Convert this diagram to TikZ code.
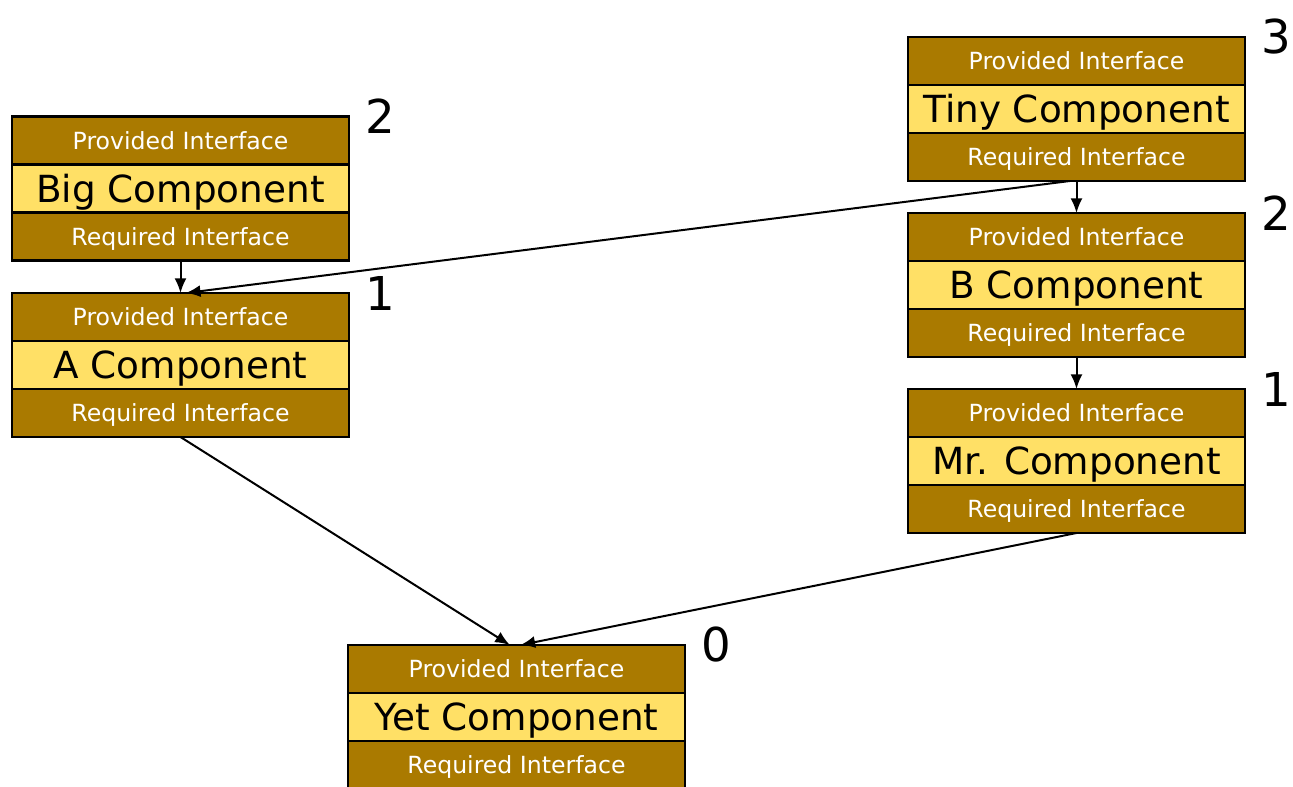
\documentclass[tikz,border=0pt]{standalone}
\usepackage{fontspec}
\setmainfont{DejaVu Sans}
\usetikzlibrary{positioning,arrows.meta}
\definecolor{gold}{RGB}{170,122,0}
\definecolor{lemon}{RGB}{255,224,102}

\begin{document}
\begin{tikzpicture}[x=0.75pt, y=-0.75pt, node distance=0pt,
  iface/.style = {draw, line width=2pt, fill=gold, text=white, minimum width=252.75pt, minimum height=36pt,
    outer sep=0pt, inner sep=0pt, text height=12.8pt, text depth=0pt, font=\fontsize{17.7}{21}\selectfont},
  comp/.style = {iface, fill=lemon, text=black, text height=20.4pt, font=\fontsize{28}{31}\selectfont},
  num/.style = {anchor=west, xshift=9pt, font=\fontsize{35}{38}\selectfont},
  link/.style = {-{Latex[length=11pt,width=9pt]}, line width=1.5pt}]
\useasboundingbox (0,0) rectangle (1293,786);

% left column
\node[iface] (big1) at (180.5,140.5) {Provided Interface};
\node[comp, below=of big1] (big2) {Big Component};
\node[iface, below=of big2] (big3) {Required Interface};
\node[num] at (big1.north east) {2};

\node[iface] (a1) at (180.5,317) {Provided Interface};
\node[comp, below=of a1] (a2) {A Component};
\node[iface, below=of a2] (a3) {Required Interface};
\node[num] at (a1.north east) {1};

% right column
\node[iface] (tiny1) at (1076.5,61) {Provided Interface};
\node[comp, below=of tiny1] (tiny2) {Tiny Component};
\node[iface, below=of tiny2] (tiny3) {Required Interface};
\node[num] at (tiny1.north east) {3};

\node[iface] (b1) at (1076.5,237) {Provided Interface};
\node[comp, below=of b1] (b2) {B Component};
\node[iface, below=of b2] (b3) {Required Interface};
\node[num] at (b1.north east) {2};

\node[iface] (mr1) at (1076.5,413) {Provided Interface};
\node[comp, below=of mr1] (mr2) {Mr. Component};
\node[iface, below=of mr2] (mr3) {Required Interface};
\node[num] at (mr1.north east) {1};

% bottom
\node[iface] (yet1) at (516.5,669) {Provided Interface};
\node[comp, below=of yet1] (yet2) {Yet Component};
\node[iface, below=of yet2] (yet3) {Required Interface};
\node[num] at (yet1.north east) {0};

\draw[link] (big3.south) -- (a1.north);
\draw[link] ([xshift=-5pt]tiny3.south) -- ([xshift=4pt]a1.north);
\draw[link] (tiny3.south) -- (b1.north);
\draw[link] (b3.south) -- (mr1.north);
\draw[link] (a3.south) -- ([xshift=-5pt]yet1.north);
\draw[link] (mr3.south) -- ([xshift=3pt]yet1.north);
\end{tikzpicture}
\end{document}
